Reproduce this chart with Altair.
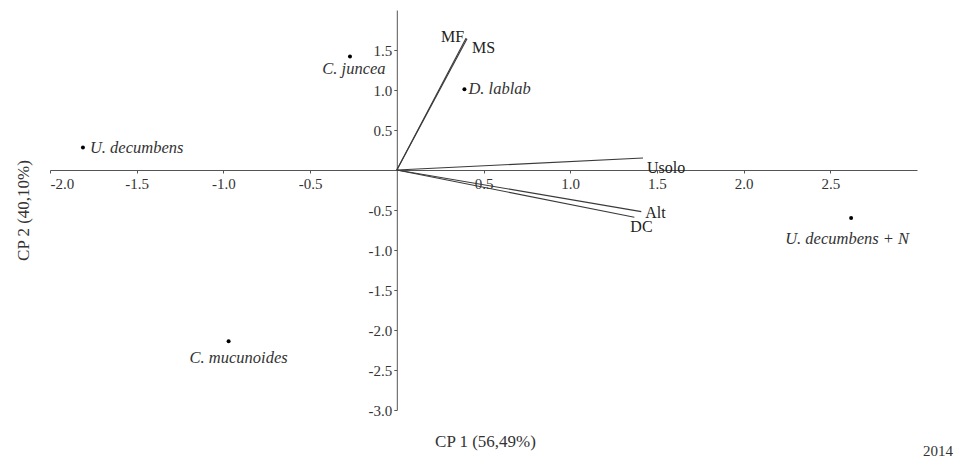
import altair as alt
import pandas as pd

# Treatments (scores)
treatments = ["U. decumbens", "C. juncea", "D. lablab", "C. mucunoides", "U. decumbens + N"]
treat_cp1 = [-1.81, -0.27, 0.39, -0.97, 2.62]
treat_cp2 = [0.28, 1.42, 1.01, -2.14, -0.60]

# Variables (loadings)
variables = ["MF", "MS", "Usolo", "Alt", "DC"]
var_cp1 = [0.40, 0.405, 1.42, 1.41, 1.37]
var_cp2 = [1.65, 1.64, 0.15, -0.52, -0.59]

x_ticks = [-2.0, -1.5, -1.0, -0.5, 0.5, 1.0, 1.5, 2.0, 2.5]
y_ticks = [-3.0, -2.5, -2.0, -1.5, -1.0, -0.5, 0.5, 1.0, 1.5]

W, H = 867, 400
X_DOM = [-2, 3]
Y_DOM = [-3, 2]
FONT = "Liberation Serif"
LBL = "(datum.value < 0 ? '-' : '') + format(abs(datum.value), '.1f')"

pts = pd.DataFrame({"name": treatments, "cp1": treat_cp1, "cp2": treat_cp2})
vec = pd.DataFrame({"name": variables, "cp1": var_cp1, "cp2": var_cp2,
                    "x0": [0.0] * len(variables), "y0": [0.0] * len(variables)})

x_off = -W * (0 - X_DOM[0]) / (X_DOM[1] - X_DOM[0])
y_off = -H * (0 - Y_DOM[0]) / (Y_DOM[1] - Y_DOM[0])

x_axis = alt.Axis(
    title="CP 1 (56,49%)", values=x_ticks, labelExpr=LBL, orient="bottom",
    offset=y_off, grid=False, domainColor="#555", tickColor="#555", tickSize=3,
    labelFont=FONT, labelFontSize=15, labelColor="#333", labelPadding=3,
    titleFont=FONT, titleFontSize=17, titleFontWeight="normal", titleColor="#333",
    titleX=435, titleY=276, titleBaseline="alphabetic", titleAlign="center",
)
y_axis = alt.Axis(
    title="CP 2 (40,10%)", values=y_ticks, labelExpr=LBL, orient="left",
    offset=x_off, grid=False, domainColor="#555", tickColor="#555", tickSize=3,
    labelFont=FONT, labelFontSize=15, labelColor="#333", labelPadding=2,
    titleFont=FONT, titleFontSize=17, titleFontWeight="normal", titleColor="#333",
    titleX=-364, titleY=200, titleAngle=270, titleBaseline="bottom", titleAlign="center",
)
xs = alt.Scale(domain=X_DOM, nice=False, zero=False)
ys = alt.Scale(domain=Y_DOM, nice=False, zero=False)

rules = alt.Chart(vec).mark_rule(color="#3a3a3a", strokeWidth=1.1).encode(
    x=alt.X("x0:Q", scale=xs, axis=x_axis),
    x2="cp1:Q",
    y=alt.Y("y0:Q", scale=ys, axis=y_axis),
    y2="cp2:Q",
)

points = alt.Chart(pts).mark_circle(color="black", opacity=1, size=16).encode(
    x=alt.X("cp1:Q", scale=xs, axis=x_axis),
    y=alt.Y("cp2:Q", scale=ys, axis=y_axis),
)

layers = [rules, points]

# label styling offsets (pixels)
var_style = {
    "MF": dict(align="right", dx=-2, dy=-1),
    "MS": dict(align="left", dx=5, dy=9),
    "Usolo": dict(align="left", dx=4, dy=10),
    "Alt": dict(align="left", dx=4, dy=1),
    "DC": dict(align="left", dx=-4, dy=10),
}
for name, st in var_style.items():
    layers.append(
        alt.Chart(vec).transform_filter(alt.datum.name == name)
        .mark_text(font=FONT, fontSize=16, color="#222", baseline="middle", **st)
        .encode(x=alt.X("cp1:Q", scale=xs, axis=x_axis),
                y=alt.Y("cp2:Q", scale=ys, axis=y_axis),
                text="name:N")
    )

pt_style = {
    "U. decumbens": dict(align="left", dx=7, dy=0),
    "C. juncea": dict(align="center", dx=4, dy=13),
    "D. lablab": dict(align="left", dx=4, dy=0),
    "C. mucunoides": dict(align="center", dx=10, dy=17),
    "U. decumbens + N": dict(align="center", dx=-4, dy=21),
}
for name, st in pt_style.items():
    layers.append(
        alt.Chart(pts).transform_filter(alt.datum.name == name)
        .mark_text(font=FONT, fontSize=16.5, fontStyle="italic", color="#333", baseline="middle", **st)
        .encode(x=alt.X("cp1:Q", scale=xs, axis=x_axis),
                y=alt.Y("cp2:Q", scale=ys, axis=y_axis),
                text="name:N")
    )

year = alt.Chart(pd.DataFrame({"t": ["2014"]})).mark_text(
    font=FONT, fontSize=15, color="#333", align="right", baseline="middle"
).encode(x=alt.value(903), y=alt.value(441), text="t:N")
layers.append(year)

chart = alt.layer(*layers).properties(
    width=W, height=H,
    autosize=alt.AutoSizeParams(type="none"),
    padding={"left": 42, "top": 2, "right": 39, "bottom": 50},
    background="white",
).configure_view(stroke=None)

chart.save("out.html", embed_options={"renderer": "svg", "actions": False})
